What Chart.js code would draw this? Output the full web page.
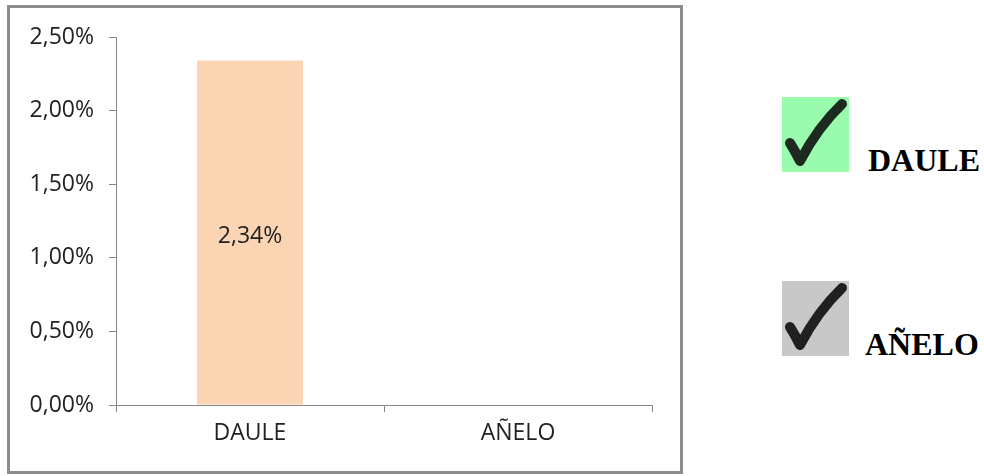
<!DOCTYPE html>
<html>
<head>
<meta charset="utf-8">
<script src="https://cdn.jsdelivr.net/npm/chart.js@4"></script>
<style>
  body { margin: 0; background: #fff; width: 984px; height: 476px; position: relative; overflow: hidden; }
  .frame { position: absolute; left: 7px; top: 5px; width: 670px; height: 463px; border: 3px solid #8c8c8c; background: #fff; }
  .frame canvas { position: absolute; left: 0; top: 0; }
  .box { position: absolute; width: 67px; height: 75px; }
  .box svg { position: absolute; left: 0; top: 0; }
  .lbl { position: absolute; font-family: "Liberation Serif", "Times New Roman", serif; font-weight: bold;
    font-size: 32px; color: #000; line-height: 1; }
</style>
</head>
<body>
<div class="frame"><canvas id="chart" width="670" height="463"></canvas></div>

<div class="box" style="left:782px;top:97px;background:#98fbae;">
  <svg width="67" height="75"><path d="M8 46 Q13 54 18 64 Q36 30 60 7" fill="none" stroke="#1c2a1f" stroke-width="10" stroke-linecap="round" stroke-linejoin="round"/></svg>
</div>
<div class="lbl" style="left:868px;top:144px;">DAULE</div>
<div class="box" style="left:782px;top:281px;background:#c8c8c8;">
  <svg width="67" height="75"><path d="M8 46 Q13 54 18 64 Q36 30 60 7" fill="none" stroke="#202020" stroke-width="10" stroke-linecap="round" stroke-linejoin="round"/></svg>
</div>
<div class="lbl" style="left:865px;top:328px;">AÑELO</div>

<script>
const categories = ['DAULE', 'AÑELO'];
const values = [0.0234, 0];
const yTicks = [0, 0.005, 0.01, 0.015, 0.02, 0.025];

const pct = v => (v * 100).toFixed(2).replace('.', ',') + '%';

// writes the value in the middle of each non-zero bar
const barLabels = {
  id: 'barLabels',
  afterDatasetsDraw(chart) {
    const ctx = chart.ctx;
    const meta = chart.getDatasetMeta(0);
    ctx.save();
    ctx.font = '23px "Open Sans"';
    ctx.fillStyle = '#222';
    ctx.textAlign = 'center';
    ctx.textBaseline = 'middle';
    meta.data.forEach((bar, i) => {
      if (!values[i]) return;
      ctx.fillText(pct(values[i]), bar.x, (bar.y + bar.base) / 2 + 4);
    });
    ctx.restore();
  }
};

new Chart(document.getElementById('chart'), {
  type: 'bar',
  data: {
    labels: categories,
    datasets: [{
      data: values,
      backgroundColor: '#fbd4b4',
      categoryPercentage: 1,
      barPercentage: 0.395
    }]
  },
  options: {
    responsive: false,
    animation: false,
    layout: { padding: { top: 29, right: 28, left: 0, bottom: 0 } },
    plugins: { legend: { display: false }, tooltip: { enabled: false } },
    scales: {
      x: {
        grid: { drawOnChartArea: false, tickLength: 7, color: '#868686', offset: true },
        border: { color: '#868686', width: 1 },
        ticks: { color: '#222', font: { family: 'Open Sans', size: 23 }, padding: 8 },
        afterFit: s => { s.height = 66; }
      },
      y: {
        min: 0,
        max: 0.025,
        afterBuildTicks: s => { s.ticks = yTicks.map(v => ({ value: v })); },
        grid: { drawOnChartArea: false, tickLength: 7, color: '#868686' },
        border: { color: '#868686', width: 1 },
        ticks: { color: '#222', font: { family: 'Open Sans', size: 23 }, padding: 15,
          callback: v => pct(v) },
        afterFit: s => { s.width = 106; }
      }
    }
  },
  plugins: [barLabels]
});
</script>
</body>
</html>
